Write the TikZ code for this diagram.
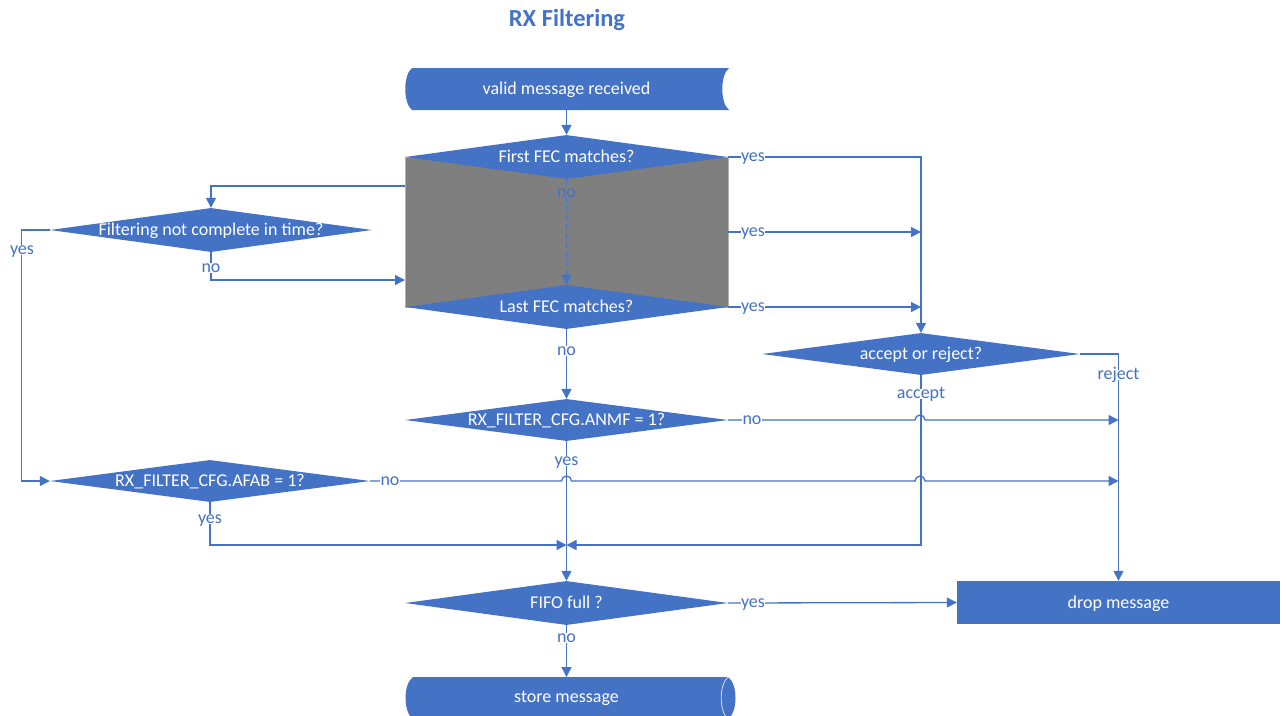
\documentclass[tikz,border=0pt]{standalone}
\usepackage{fontspec}
\setmainfont{Carlito}
\usetikzlibrary{shapes.geometric,arrows.meta}
\definecolor{vb}{HTML}{4472C4}
\definecolor{gr}{HTML}{7F7F7F}
\begin{document}
\begin{tikzpicture}[x=1pt,y=-1pt,
  line/.style={draw=vb, line width=1.3pt},
  arr/.style={line, -{Triangle[length=10pt,width=10pt]}},
  dia/.style={diamond, fill=vb, draw=none, inner sep=0pt},
  dtxt/.style={text=white, font=\fontsize{18}{21}\selectfont, inner sep=0pt, text height=11.6pt, text depth=0pt},
  lbl/.style={text=vb, font=\fontsize{18}{21}\selectfont, fill=white, inner sep=0.5pt, text height=8.4pt, text depth=0pt},
  boxn/.style={rectangle, fill=vb, inner sep=0pt}
]
\useasboundingbox (0,0) rectangle (1287,715);
\clip (0,0) rectangle (1287,715);

% title
\node[font=\fontsize{24.5}{28}\selectfont\bfseries, text=vb, text height=15.5pt, text depth=0pt] (title) at (567,19) {RX Filtering};

% gray background block
\node[rectangle, fill=gr, draw=gr!60!white, line width=0.8pt, minimum width=323pt, minimum height=150pt, inner sep=0pt] (gray) at (566.5,232) {};

% start (stored data shape)
\fill[vb] (412,68) -- (729,68) .. controls (720,75) and (720,103) .. (729,110) -- (412,110) .. controls (403,103) and (403,75) .. (412,68) -- cycle;
\node[dtxt, minimum width=323pt] (start) at (566.5,89) {valid message received};

% diamonds
\node[dia, minimum width=323pt, minimum height=44pt, label={[dtxt]center:First FEC matches?}] (ff) at (566.5,157) {};
\node[dia, minimum width=323pt, minimum height=44pt, label={[dtxt]center:Last FEC matches?}] (lf) at (566.5,307) {};
\node[dia, minimum width=322pt, minimum height=44pt, label={[dtxt]center:Filtering not complete in time?}] (fn) at (211,230) {};
\node[dia, minimum width=320pt, minimum height=42pt, label={[dtxt]center:RX\_FILTER\_CFG.AFAB = 1?}] (afab) at (210,481) {};
\node[dia, minimum width=323pt, minimum height=42pt, label={[dtxt]center:RX\_FILTER\_CFG.ANMF = 1?}] (anmf) at (566.5,420) {};
\node[dia, minimum width=318pt, minimum height=42pt, label={[dtxt]center:accept or reject?}] (ar) at (921,354) {};
\node[dia, minimum width=323pt, minimum height=44pt, label={[dtxt]center:FIFO full ?}] (fifo) at (566.5,603) {};

% drop message
\node[boxn, minimum width=323pt, minimum height=43pt, label={[dtxt]center:drop message}] (drop) at (1118.5,602.5) {};

% store message (cylinder)
\fill[vb] (413,677) -- (728,677) .. controls (738,684) and (738,712) .. (728,719) -- (413,719) .. controls (403,712) and (403,684) .. (413,677) -- cycle;
\draw[white!75!vb, line width=0.8pt] (728,677) .. controls (719,684) and (719,712) .. (728,719);
\node[dtxt, minimum width=323pt] (store) at (566.5,697) {store message};

% helper coordinates
\coordinate (g1) at (405,186);
\coordinate (g2) at (405,280);
\coordinate (jn) at (566.5,545);

% connectors
\draw[arr] (start.south |- 0,110) -- (ff.north);
\draw[arr, dash pattern=on 6pt off 3pt] (ff.south) -- (lf.north);
\node[lbl, fill=gr] (noff) at (566.5,193) {no};

\draw[arr] (ff.east) -| (ar.north);
\draw[arr] (gray.east) -- (ar.north |- gray.east);
\draw[arr] (lf.east) -- (ar.north |- lf.east);
\node[lbl] (y1) at (753,157) {yes};
\node[lbl] (y2) at (753,232) {yes};
\node[lbl] (y3) at (753,307) {yes};

\draw[arr] (g1) -| (fn.north);
\draw[arr] (fn.west) -- ++(-28,0) |- (afab.west);
\node[lbl] (yfn) at (22,250) {yes};
\draw[arr] (fn.south) |- (g2);
\node[lbl] (nfn) at (211,268) {no};

\draw[arr] (lf.south) -- (anmf.north);
\node[lbl] (nlf) at (566.5,351) {no};

\draw[arr] (anmf.east) -- (915,420) arc[start angle=180, end angle=360, radius=5] -- (drop.north |- anmf.east);
\node[lbl] (nanmf) at (752,420) {no};
\draw[arr] (anmf.south) -- (fifo.north);
\node[lbl] (yanmf) at (566.5,461) {yes};

\draw[arr] (afab.east) -- (561.5,481) arc[start angle=180, end angle=360, radius=5] -- (915,481) arc[start angle=180, end angle=360, radius=5] -- (drop.north |- afab.east);
\node[lbl] (nafab) at (390,481) {no};
\draw[arr] (afab.south) |- (jn);
\node[lbl] (yafab) at (210,519) {yes};

\draw[arr] (ar.east) -| (drop.north);
\node[lbl] (rej) at (1118.5,375) {reject};
\draw[arr] (ar.south) |- (jn);
\node[lbl] (acc) at (921,394) {accept};

\draw[arr] (fifo.east) -- (drop.west);
\node[lbl] (yfifo) at (753,603) {yes};
\draw[arr] (fifo.south) -- (store.north |- 0,677);
\node[lbl] (nfifo) at (566.5,638) {no};
\end{tikzpicture}
\end{document}
